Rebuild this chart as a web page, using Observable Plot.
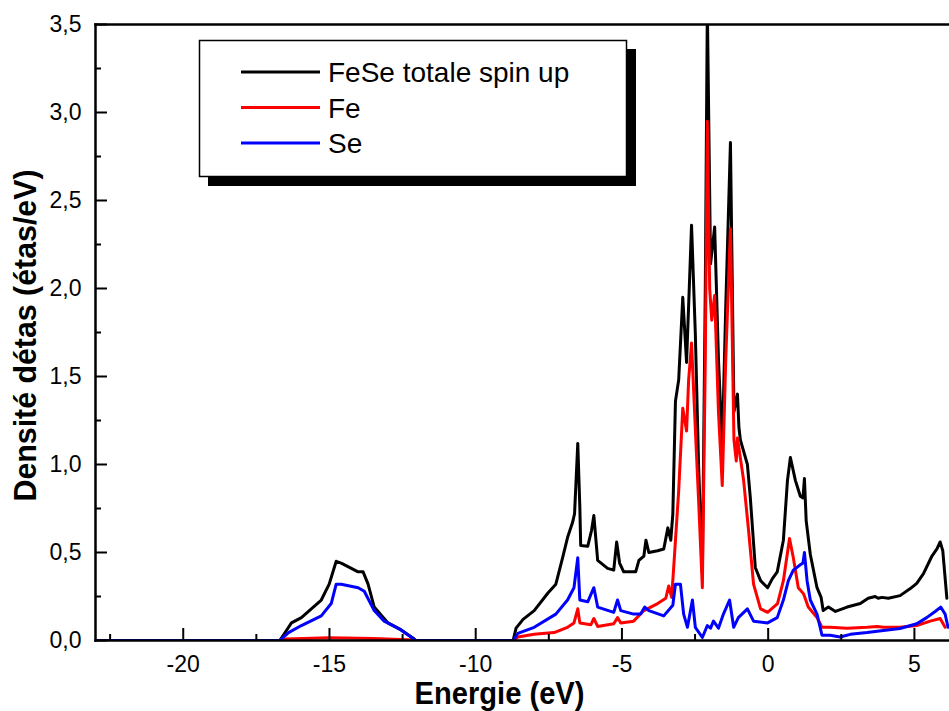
<!DOCTYPE html>
<html><head><meta charset="utf-8">
<script src="https://cdn.jsdelivr.net/npm/d3@7"></script>
<script src="https://cdn.jsdelivr.net/npm/@observablehq/plot@0.6"></script>
<style>
html,body{margin:0;padding:0;background:#fff;}
#chart{position:relative;width:949px;height:711px;overflow:hidden;}
#chart svg{display:block;}
#legend{position:absolute;left:0;top:0;pointer-events:none;}
</style></head><body><div id="chart"></div>
<script>
// Total DOS (black)
const totalE = [-23,-16.7,-16.54,-16.30,-15.96,-15.62,-15.28,-15.01,-14.77,-14.60,-14.02,-13.85,-13.68,-13.47,-13.00,-12.55,-12.11,-12.05,
 -8.72,-8.62,-8.38,-8.0,-7.53,-7.26,-7.03,-6.86,-6.69,-6.62,-6.51,-6.44,-6.41,-6.17,-6.04,-5.96,-5.83,-5.49,-5.28,-5.18,-5.08,-4.94,-4.53,-4.42,-4.25,-4.18,-4.08,-3.78,-3.57,-3.43,-3.33,-3.26,-3.17,-3.06,-2.92,-2.79,-2.62,-2.49,-2.38,-2.25,-2.15,-2.08,-1.97,-1.83,-1.70,-1.57,-1.45,-1.29,-1.17,-1.05,-1.0,-0.95,-0.71,-0.61,-0.44,-0.26,-0.02,
 0.14,0.31,0.52,0.66,0.76,0.93,1.10,1.19,1.24,1.30,1.44,1.67,1.81,1.88,2.06,2.30,2.70,3.15,3.42,3.66,3.76,3.89,4.11,4.51,4.86,5.08,5.31,5.60,5.77,5.88,5.97,6.11];
const totalDOS = [0,0,0.04,0.10,0.13,0.18,0.23,0.32,0.45,0.44,0.39,0.39,0.32,0.19,0.10,0.06,0.01,0,
 0,0.07,0.12,0.17,0.27,0.32,0.47,0.585,0.67,0.72,1.12,0.76,0.54,0.535,0.625,0.71,0.455,0.41,0.40,0.56,0.44,0.39,0.39,0.455,0.48,0.57,0.50,0.51,0.52,0.64,0.57,0.72,1.36,1.48,1.95,1.58,2.36,1.74,1.0,0.38,2.0,3.6,2.14,2.35,1.6,1.10,1.9,2.83,1.30,1.40,1.21,1.14,1.0,0.81,0.415,0.34,0.30,
 0.35,0.39,0.57,0.91,1.04,0.91,0.82,0.81,0.92,0.68,0.49,0.30,0.245,0.17,0.19,0.165,0.19,0.21,0.24,0.25,0.24,0.245,0.24,0.255,0.295,0.325,0.38,0.48,0.52,0.56,0.51,0.24];

// Fe (red)
const feE = [-23,-16.7,-16.5,-15,-13.5,-12.1,-12.05,
 -8.72,-8.56,-8.0,-7.32,-6.86,-6.64,-6.51,-6.44,-6.06,-5.96,-5.83,-5.28,-5.15,-5.04,-4.60,-4.25,-3.78,-3.50,-3.40,-3.30,-3.23,-3.06,-2.92,-2.79,-2.72,-2.62,-2.49,-2.38,-2.25,-2.15,-2.08,-2.0,-1.93,-1.83,-1.70,-1.57,-1.45,-1.29,-1.17,-1.09,-1.05,-0.84,-0.67,-0.50,-0.26,-0.02,
 0.32,0.52,0.73,0.86,1.03,1.21,1.37,1.67,1.84,2.12,2.70,3.38,3.72,3.94,4.51,5.08,5.54,5.88,6.05];
const feDOS = [0,0,0.008,0.015,0.012,0.003,0,
 0,0.02,0.035,0.045,0.075,0.10,0.18,0.10,0.09,0.125,0.08,0.095,0.13,0.10,0.11,0.17,0.21,0.24,0.31,0.245,0.415,0.85,1.32,1.19,1.48,1.69,1.2,0.8,0.30,1.6,2.95,2.0,1.82,1.96,1.3,0.88,1.6,2.34,1.14,1.02,1.15,0.91,0.625,0.32,0.18,0.16,
 0.21,0.34,0.58,0.47,0.30,0.265,0.19,0.13,0.075,0.075,0.07,0.075,0.08,0.075,0.075,0.085,0.11,0.125,0.075];

// Se (blue)
const seE = [-23,-16.7,-16.40,-15.96,-15.28,-14.94,-14.77,-14.60,-14.02,-13.81,-13.47,-13.13,-12.55,-12.05,
 -8.72,-8.56,-8.0,-7.26,-6.86,-6.64,-6.51,-6.44,-6.17,-5.96,-5.83,-5.28,-5.15,-5.04,-4.60,-4.36,-4.22,-4.08,-3.57,-3.26,-3.17,-3.0,-2.89,-2.76,-2.59,-2.49,-2.25,-2.08,-1.97,-1.87,-1.70,-1.53,-1.32,-1.18,-1.02,-0.71,-0.50,-0.02,
 0.31,0.52,0.69,0.86,1.10,1.19,1.24,1.33,1.44,1.67,1.84,2.12,2.46,2.81,3.38,3.94,4.51,5.08,5.42,5.71,5.90,6.05,6.15];
const seDOS = [0,0,0.045,0.085,0.14,0.21,0.32,0.32,0.30,0.28,0.17,0.11,0.06,0,
 0,0.04,0.075,0.15,0.23,0.30,0.47,0.23,0.22,0.30,0.19,0.16,0.23,0.17,0.15,0.15,0.19,0.17,0.14,0.20,0.32,0.32,0.15,0.075,0.23,0.075,0.017,0.085,0.07,0.11,0.07,0.15,0.23,0.075,0.13,0.18,0.11,0.10,
 0.13,0.23,0.34,0.40,0.43,0.44,0.50,0.34,0.23,0.15,0.03,0.03,0.02,0.035,0.045,0.057,0.068,0.095,0.13,0.165,0.19,0.15,0.075];

const seriesNames = ["FeSe totale spin up", "Fe", "Se"];
const seriesColors = ["#000000", "#ff0000", "#0000ff"];
const xMajorTicks = [-20, -15, -10, -5, 0, 5];
const xMinorTicks = [-22.5, -17.5, -12.5, -7.5, -2.5, 2.5];
const yMajorTicks = [0, 0.5, 1, 1.5, 2, 2.5, 3, 3.5];
const yMinorTicks = [0.25, 0.75, 1.25, 1.75, 2.25, 2.75, 3.25];
const xTitle = "Energie (eV)";
const yTitle = "Densité détas (étas/eV)";

const toRows = (E, D, s) => E.map((e, i) => ({energy: e, dos: D[i], series: s}));
const rows = [toRows(totalE, totalDOS, seriesNames[0]), toRows(feE, feDOS, seriesNames[1]), toRows(seE, seDOS, seriesNames[2])];

const W = 949, H = 711, ML = 95, MR = 0, MT = 24, MB = 71;
const innerW = W - ML - MR, innerH = H - MT - MB;
const titleFont = "'Liberation Sans',Arial,sans-serif";

const chart = Plot.plot({
  width: W, height: H, marginLeft: ML, marginRight: MR, marginTop: MT, marginBottom: MB,
  style: {fontFamily: "'Liberation Sans',Arial,sans-serif", fontSize: "23px", color: "#000", background: "#fff", overflow: "visible"},
  x: {domain: [-23, 6.2]},
  y: {domain: [0, 3.5]},
  marks: [
    ...rows.map((r, i) => Plot.line(r, {x: "energy", y: "dos", stroke: seriesColors[i], strokeWidth: 3, clip: true})),
    Plot.ruleX(xMajorTicks, {x: d => d, insetTop: innerH - 12, stroke: "#000", strokeWidth: 2}),
    Plot.ruleX(xMinorTicks, {x: d => d, insetTop: innerH - 6, stroke: "#000", strokeWidth: 2}),
    Plot.ruleY(yMajorTicks, {y: d => d, insetRight: innerW - 12, stroke: "#000", strokeWidth: 2}),
    Plot.ruleY(yMinorTicks, {y: d => d, insetRight: innerW - 6, stroke: "#000", strokeWidth: 2}),
    Plot.frame({anchor: "left", stroke: "#000", strokeWidth: 2.5}),
    Plot.frame({anchor: "top", stroke: "#000", strokeWidth: 2.5}),
    Plot.frame({anchor: "bottom", stroke: "#000", strokeWidth: 2.5}),
    Plot.axisX(xMajorTicks, {tickSize: 0, tickPadding: 15, tickFormat: d => String(d), label: null, fontSize: 23}),
    Plot.axisY(yMajorTicks, {tickSize: 0, tickPadding: 14, tickFormat: d => d.toFixed(1).replace(".", ","), label: null, fontSize: 23}),
    Plot.text([xTitle], {frameAnchor: "bottom", dy: 63, dx: -23, text: d => d, textAnchor: "middle", lineAnchor: "bottom", fontWeight: "bold", fontSize: 31, fontFamily: titleFont}),
    Plot.text([yTitle], {frameAnchor: "left", dx: -69, dy: 3, rotate: -90, text: d => d, textAnchor: "middle", lineAnchor: "middle", fontWeight: "bold", fontSize: 31, fontFamily: titleFont})
  ]
});
document.getElementById("chart").appendChild(chart);

// condense the axis titles to the reference's narrow look
d3.select(chart).selectAll("text").each(function() {
  const t = this.textContent;
  if (t === xTitle) d3.select(this).attr("textLength", 170).attr("lengthAdjust", "spacingAndGlyphs");
  if (t === yTitle) d3.select(this).attr("textLength", 332).attr("lengthAdjust", "spacingAndGlyphs");
});

// Legend box overlay
const lg = d3.select("#chart").append("svg").attr("id", "legend").attr("width", W).attr("height", H);
lg.append("rect").attr("x", 208).attr("y", 49).attr("width", 428).attr("height", 137).attr("fill", "#000");
lg.append("rect").attr("x", 199.5).attr("y", 40.5).attr("width", 427).attr("height", 136).attr("fill", "#fff").attr("stroke", "#000").attr("stroke-width", 1.5);
const ly = [72, 107.5, 143];
seriesNames.forEach((n, i) => {
  lg.append("line").attr("x1", 241).attr("x2", 320).attr("y1", ly[i]).attr("y2", ly[i]).attr("stroke", seriesColors[i]).attr("stroke-width", 3);
  lg.append("text").attr("x", 328).attr("y", ly[i]).attr("dy", "0.36em").attr("font-family", "'Liberation Sans',Arial,sans-serif").attr("font-size", 28).attr("fill", "#000").text(n);
});
</script></body></html>
